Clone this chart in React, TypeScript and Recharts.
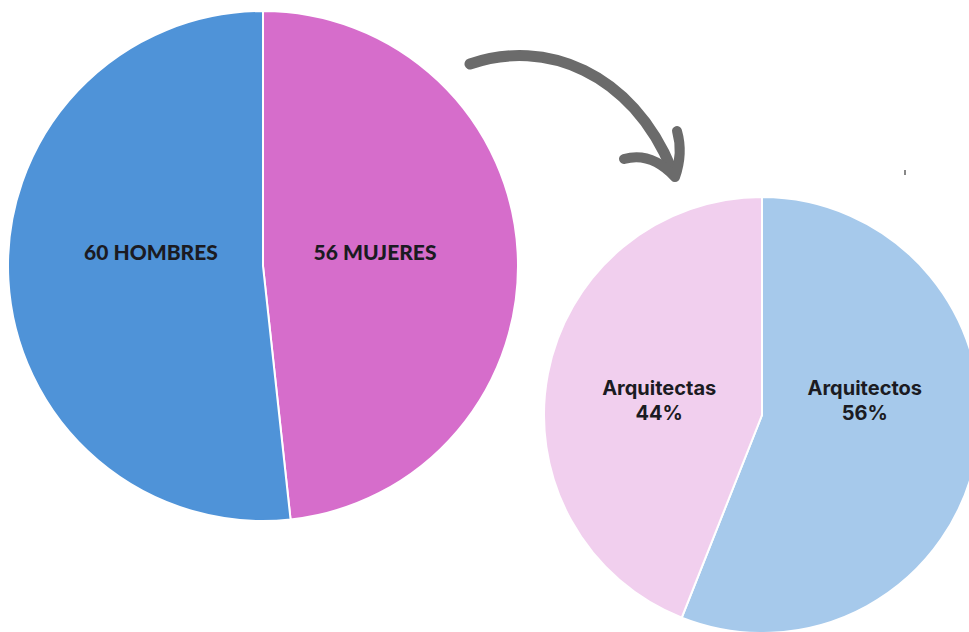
import { PieChart, Pie, Cell } from "recharts";

// Datos: personas por sexo y porcentaje de profesionales
const GENDER_NAMES = ["MUJERES", "HOMBRES"];
const GENDER_VALUES = [56, 60];
const GENDER_COLORS = ["#D66DCB", "#4F93D8"];

const ARCH_NAMES = ["Arquitectos", "Arquitectas"];
const ARCH_VALUES = [56, 44];
const ARCH_COLORS = ["#A6C9EB", "#F1CFEE"];

const genderData = GENDER_NAMES.map((name, i) => ({ name, value: GENDER_VALUES[i] }));
const archData = ARCH_NAMES.map((name, i) => ({ name, value: ARCH_VALUES[i] }));

const RAD = Math.PI / 180;

// etiqueta "56 MUJERES" dentro de la porción
const genderLabel = (props: any) => {
  const { cx, cy, midAngle, outerRadius, value, name } = props;
  const r = outerRadius * 0.44;
  const x = cx + r * Math.cos(-midAngle * RAD);
  const y = cy - 15;
  return (
    <text
      x={x}
      y={y}
      textAnchor="middle"
      dominantBaseline="central"
      fill="#1b1b22"
      fontFamily="Lato, 'Noto Sans', sans-serif"
      fontWeight={900}
      fontSize={21}
    >
      {`${value} ${name}`}
    </text>
  );
};

// etiqueta con nombre y porcentaje en dos líneas
const archLabel = (props: any) => {
  const { cx, cy, midAngle, outerRadius, name, percent } = props;
  const r = outerRadius * 0.48;
  const x = cx + r * Math.cos(-midAngle * RAD);
  const y = cy - 20;
  return (
    <text
      x={x}
      y={y}
      textAnchor="middle"
      fill="#1b1b22"
      fontFamily="Inter, 'Noto Sans', sans-serif"
      fontWeight={700}
      fontSize={20}
    >
      <tspan x={x} dy={0}>{name}</tspan>
      <tspan x={x} dy={25}>{`${Math.round(percent * 100)}%`}</tspan>
    </text>
  );
};

export default function App() {
  return (
    <div style={{ position: "fixed", left: 0, top: 0, width: 969, height: 632, background: "#fff" }}>
      <PieChart width={969} height={632} margin={{ top: 0, right: 0, bottom: 0, left: 0 }}>
        <Pie
          data={genderData}
          dataKey="value"
          cx={263}
          cy={266}
          outerRadius={255}
          startAngle={90}
          endAngle={-270}
          stroke="#ffffff"
          strokeWidth={2}
          label={genderLabel}
          labelLine={false}
          isAnimationActive={false}
        >
          {genderData.map((_, i) => (
            <Cell key={`g-${i}`} fill={GENDER_COLORS[i]} />
          ))}
        </Pie>
        <Pie
          data={archData}
          dataKey="value"
          cx={762}
          cy={415}
          outerRadius={218}
          startAngle={90}
          endAngle={-270}
          stroke="#ffffff"
          strokeWidth={2}
          label={archLabel}
          labelLine={false}
          isAnimationActive={false}
        >
          {archData.map((_, i) => (
            <Cell key={`a-${i}`} fill={ARCH_COLORS[i]} />
          ))}
        </Pie>
      </PieChart>
      {/* flecha decorativa */}
      <svg
        width={969}
        height={632}
        style={{ position: "absolute", left: 0, top: 0, pointerEvents: "none" }}
      >
        <path
          d="M 470 64 C 545 38, 632 72, 672 170"
          fill="none"
          stroke="#6b6b6b"
          strokeWidth={11}
          strokeLinecap="round"
        />
        <path
          d="M 624 159 C 645 153, 662 163, 675 177 C 681 160, 681 145, 677 131"
          fill="none"
          stroke="#6b6b6b"
          strokeWidth={10}
          strokeLinecap="round"
          strokeLinejoin="round"
        />
        <rect x={904} y={170} width={2} height={5} fill="#888" />
      </svg>
    </div>
  );
}
